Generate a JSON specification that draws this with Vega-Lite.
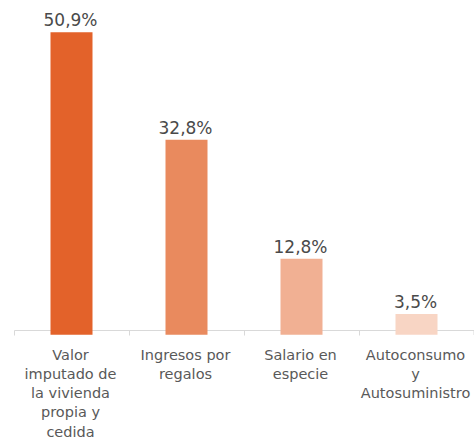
{
  "$schema": "https://vega.github.io/schema/vega-lite/v6.json",
  "width": 460,
  "height": 328,
  "padding": {"left": 13, "top": 2, "right": 1, "bottom": 0},
  "background": "white",
  "config": {"view": {"stroke": null}, "font": "DejaVu Sans"},
  "data": {"values": [
    {"cat": "Valor imputado de la vivienda propia y cedida", "v": 50.9, "lab": "50,9%"},
    {"cat": "Ingresos por regalos", "v": 32.8, "lab": "32,8%"},
    {"cat": "Salario en especie", "v": 12.8, "lab": "12,8%"},
    {"cat": "Autoconsumo y Autosuministro", "v": 3.5, "lab": "3,5%"}
  ]},
  "encoding": {
    "x": {"field": "cat", "type": "nominal", "sort": null,
      "scale": {"paddingInner": 0, "paddingOuter": 0},
      "axis": {"title": null, "labelAngle": 0, "bandPosition": 0, "labelAlign": "center",
        "domainColor": "#D9D9D9", "tickColor": "#D9D9D9", "tickSize": 5, "labelPadding": 13,
        "labelFontSize": 14.5, "labelColor": "#595959", "labelLineHeight": 19.3, "labelBaseline": "top",
        "labelFont": "DejaVu Sans", "labelOffset": -1,
        "labelExpr": "datum.value == 'Valor imputado de la vivienda propia y cedida' ? ['Valor','imputado de','la vivienda','propia y','cedida'] : datum.value == 'Ingresos por regalos' ? ['Ingresos por','regalos'] : datum.value == 'Salario en especie' ? ['Salario en','especie'] : ['Autoconsumo','y','Autosuministro']"}}
  },
  "layer": [
    {
      "mark": {"type": "bar", "size": 42},
      "encoding": {
        "y": {"field": "v", "type": "quantitative", "scale": {"domain": [0.8, 56], "zero": false, "nice": false}, "axis": null},
        "color": {"field": "cat", "type": "nominal", "sort": null, "legend": null,
          "scale": {"range": ["#E3622A", "#E98A5E", "#F1B093", "#F8D5C4"]}}
      }
    },
    {
      "mark": {"type": "text", "baseline": "bottom", "dy": -2, "dx": -1, "fontSize": 17, "color": "#4A4A4A", "font": "DejaVu Sans"},
      "encoding": {
        "y": {"field": "v", "type": "quantitative"},
        "text": {"field": "lab"}
      }
    },
    {
      "transform": [{"filter": "datum.v == 3.5"}],
      "mark": {"type": "rule", "color": "#D9D9D9", "clip": false},
      "encoding": {
        "x": {"field": "cat", "type": "nominal", "sort": null, "bandPosition": 1},
        "y": {"datum": 0.8},
        "y2": {"datum": -0.04}
      }
    }
  ]
}
